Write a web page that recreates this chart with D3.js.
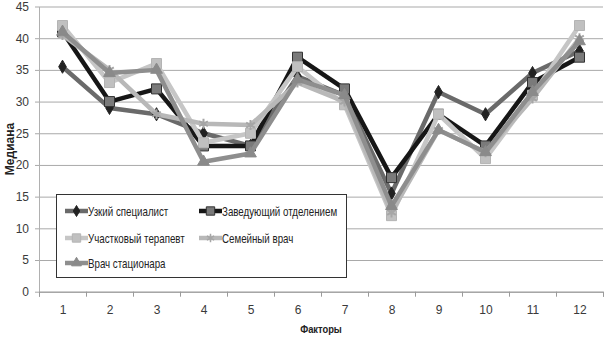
<!DOCTYPE html>
<html>
<head>
<meta charset="utf-8">
<script src="https://cdn.jsdelivr.net/npm/d3@7"></script>
<style>
  body { margin: 0; background: #fff; }
  svg text { font-family: "Liberation Sans", Arial, sans-serif; }
</style>
</head>
<body>
<div id="chart"></div>
<script>
// категории (факторы) и значения медианы по группам врачей
const factors = [1, 2, 3, 4, 5, 6, 7, 8, 9, 10, 11, 12];
const yTicks = [0, 5, 10, 15, 20, 25, 30, 35, 40, 45];

const uzkiy        = [35.5, 29, 28, 25, 23, 34, 31, 15.5, 31.5, 28, 34.5, 38];
const zaveduyushiy = [41, 30, 32, 23, 23, 37, 32, 18, 28, 23, 33, 37];
const uchastkovyi  = [42, 33, 36, 23.5, 25, 35.5, 29.5, 12, 28, 21, 31, 42];
const semeinyi     = [40.5, 35, 28, 26.5, 26.3, 33, 30, 12.5, 25.5, 22, 30.5, 40];
const stacionar    = [41, 34.5, 35, 20.5, 21.8, 33.5, 31, 13.5, 25.5, 22, 31.5, 39.5];

const seriesNames = ['Узкий специалист', 'Заведующий отделением', 'Участковый терапевт', 'Семейный врач', 'Врач стационара'];

class MedianChart {
    constructor() {
        this.width = 615;
        this.height = 346;
        this.plot = { left: 39, right: 603, top: 6.5, bottom: 291.7 };
        this.squeeze = 0.78; // шрифт в оригинале узкий
        // стиль каждой линии (порядок как в легенде)
        this.styles = [
            { line: '#6a6a6a', fill: '#222', stroke: '#222', symbol: d3.symbolDiamond, size: 50 },
            { line: '#151515', fill: '#7a7a7a', stroke: '#333', symbol: d3.symbolSquare, size: 100 },
            { line: '#c6c6c6', fill: '#c0c0c0', stroke: '#b4b4b4', symbol: d3.symbolSquare, size: 100 },
            { line: '#b8b8b8', fill: 'none', stroke: '#a6a6a6', symbol: d3.symbolAsterisk, size: 70 },
            { line: '#8e8e8e', fill: '#8a8a8a', stroke: '#8a8a8a', symbol: d3.symbolTriangle, size: 60 }
        ];
        this.data = [uzkiy, zaveduyushiy, uchastkovyi, semeinyi, stacionar];
        this.draw();
    }

    draw() {
        const p = this.plot;
        const svg = d3.select('#chart').append('svg')
            .attr('width', this.width)
            .attr('height', this.height);

        svg.append('defs').append('filter').attr('id', 'soft')
            .append('feGaussianBlur').attr('stdDeviation', 0.6);

        this.xScale = d3.scaleLinear().domain([0.5, 12.5]).range([p.left, p.right]);
        this.yScale = d3.scaleLinear().domain([0, 45]).range([p.bottom, p.top]);

        // сетка
        svg.append('g')
            .attr('transform', `translate(${p.left}, 0)`)
            .call(d3.axisLeft(this.yScale).tickValues(yTicks).tickSize(-(p.right - p.left)).tickFormat(''))
            .call(g => g.select('.domain').remove())
            .call(g => g.selectAll('line').attr('stroke', '#a9a9a9').attr('x1', -4));

        // подписи оси Y
        svg.append('g')
            .attr('transform', `translate(${p.left}, 0)`)
            .call(d3.axisLeft(this.yScale).tickValues(yTicks).tickSize(0).tickPadding(10))
            .call(g => g.select('.domain').attr('stroke', '#b0b0b0'))
            .call(g => g.selectAll('text').attr('font-size', 12).attr('fill', '#3a3a3a'));

        // ось X: засечки на границах категорий
        svg.append('g')
            .attr('transform', `translate(0, ${p.bottom})`)
            .call(d3.axisBottom(this.xScale).tickValues(d3.range(0.5, 13, 1)).tickSize(5).tickFormat(''))
            .call(g => g.select('.domain').attr('stroke', '#9a9a9a'))
            .call(g => g.selectAll('line').attr('stroke', '#9a9a9a'));

        svg.append('g')
            .attr('transform', `translate(0, ${p.bottom})`)
            .call(d3.axisBottom(this.xScale).tickValues(factors).tickSize(0).tickPadding(14))
            .call(g => g.select('.domain').remove())
            .call(g => g.selectAll('text').attr('font-size', 12).attr('fill', '#3a3a3a'));

        // заголовки осей
        svg.append('text')
            .attr('transform', `translate(14, 149) rotate(-90)`)
            .attr('text-anchor', 'middle')
            .attr('font-size', 12).attr('font-weight', 'bold').attr('fill', '#222')
            .text('Медиана');
        svg.append('text')
            .attr('transform', `translate(321, 333) scale(0.85, 1)`)
            .attr('text-anchor', 'middle')
            .attr('font-size', 11).attr('font-weight', 'bold').attr('fill', '#222')
            .text('Факторы');

        // линии
        const line = d3.line()
            .x((d, i) => this.xScale(factors[i]))
            .y(d => this.yScale(d));
        const layer = svg.append('g').attr('filter', 'url(#soft)');
        this.data.forEach((values, k) => {
            const st = this.styles[k];
            layer.append('path')
                .datum(values)
                .attr('d', line)
                .attr('fill', 'none')
                .attr('stroke', st.line)
                .attr('stroke-width', 4.5)
                .attr('stroke-linejoin', 'round');
            layer.selectAll(null)
                .data(values)
                .join('path')
                .attr('transform', (d, i) => `translate(${this.xScale(factors[i])}, ${this.yScale(d)})`)
                .attr('d', d3.symbol().type(st.symbol).size(st.size))
                .attr('fill', st.fill)
                .attr('stroke', st.stroke)
                .attr('stroke-width', st.symbol === d3.symbolAsterisk ? 2 : 1);
        });

        // легенда
        const legend = svg.append('g');
        legend.append('rect')
            .attr('x', 56.5).attr('y', 194.5)
            .attr('width', 290).attr('height', 83)
            .attr('fill', '#fff').attr('stroke', '#333');
        const slots = [[65, 211], [199, 211], [65, 238], [199, 238], [65, 263]];
        seriesNames.forEach((name, k) => {
            const st = this.styles[k];
            const [lx, ly] = slots[k];
            const item = legend.append('g').attr('transform', `translate(${lx}, ${ly})`);
            item.append('line')
                .attr('x1', 0).attr('x2', 23)
                .attr('stroke', st.line).attr('stroke-width', 4.5);
            item.append('path')
                .attr('transform', 'translate(11.5, 0)')
                .attr('d', d3.symbol().type(st.symbol).size(st.size * 0.7))
                .attr('fill', st.fill)
                .attr('stroke', st.stroke)
                .attr('stroke-width', st.symbol === d3.symbolAsterisk ? 1.5 : 1);
            item.append('text')
                .attr('transform', `translate(23, 4.5) scale(${this.squeeze}, 1)`)
                .attr('font-size', 12.5).attr('fill', '#222')
                .text(name);
        });
    }
}

new MedianChart();
</script>
</body>
</html>
